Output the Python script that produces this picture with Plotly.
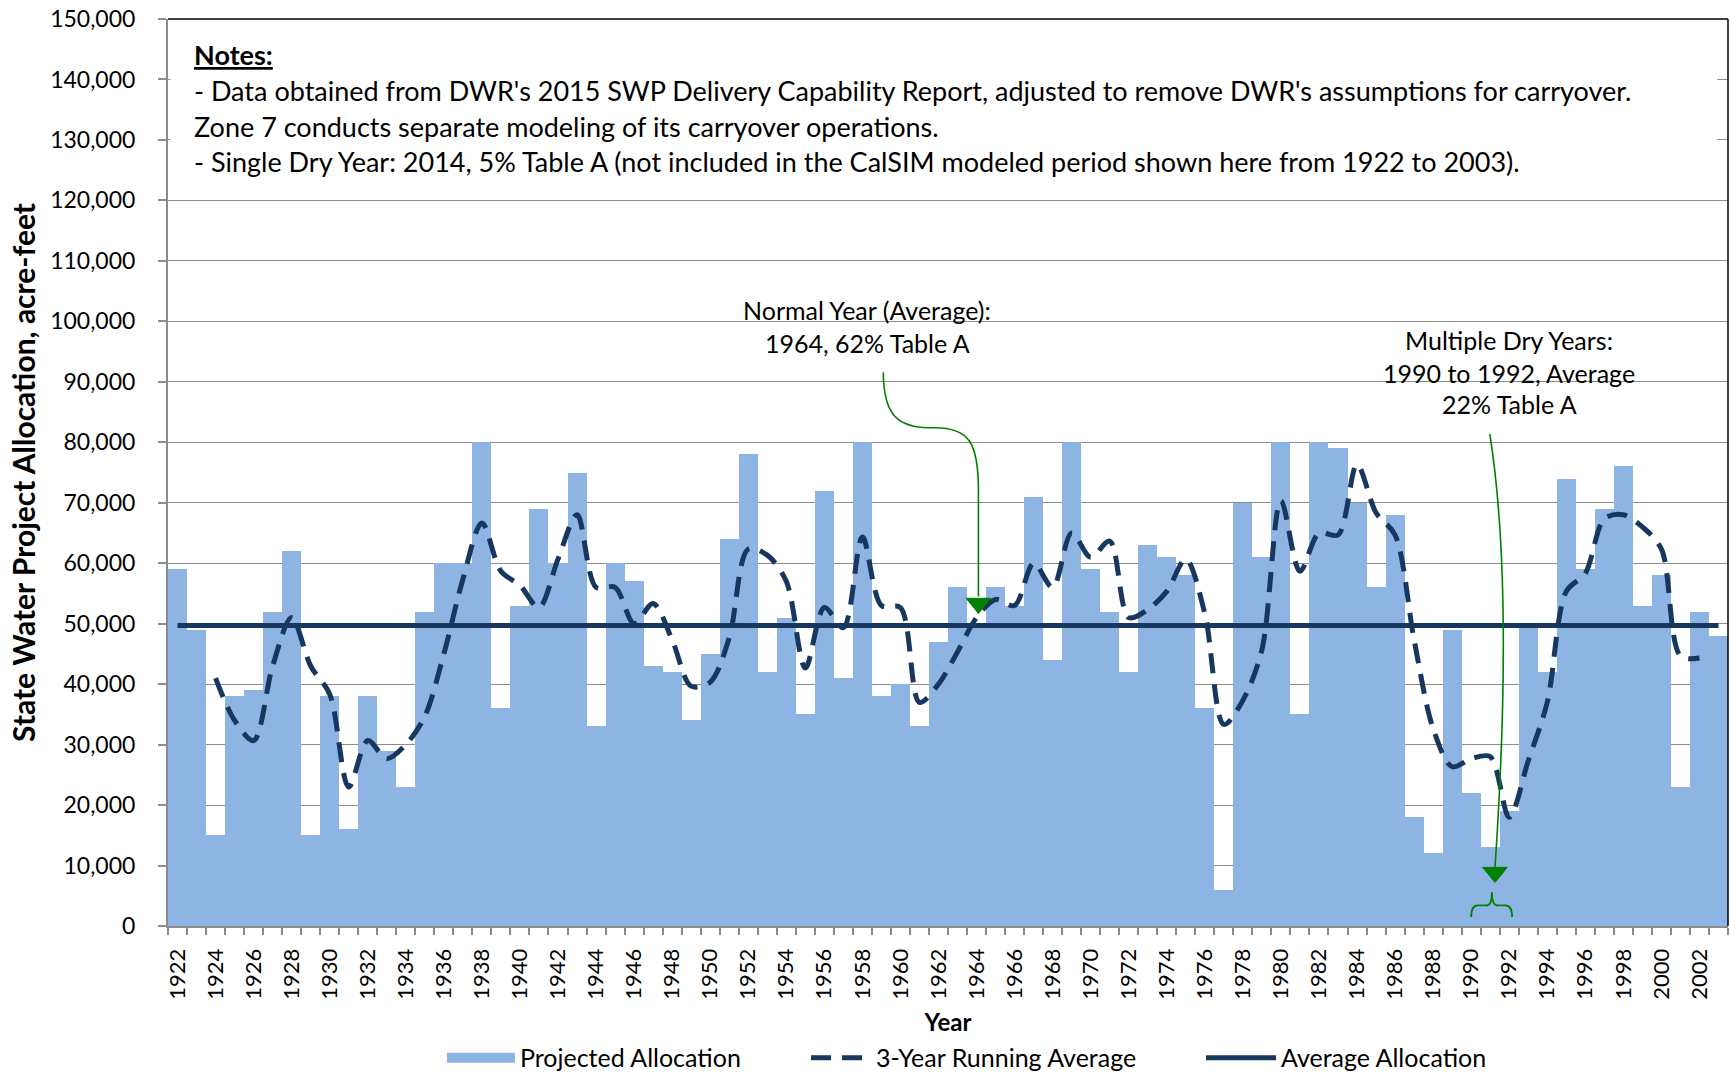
import plotly.graph_objects as go

# ---------------- data ----------------
years = list(range(1922, 2004))
projected_allocation = [
    59000, 49000, 15000, 38000, 39000, 52000, 62000, 15000, 38000, 16000,   # 1922-1931
    38000, 29000, 23000, 52000, 60000, 60000, 80000, 36000, 53000, 69000,   # 1932-1941
    60000, 75000, 33000, 60000, 57000, 43000, 42000, 34000, 45000, 64000,   # 1942-1951
    78000, 42000, 51000, 35000, 72000, 41000, 80000, 38000, 40000, 33000,   # 1952-1961
    47000, 56000, 50000, 56000, 53000, 71000, 44000, 80000, 59000, 52000,   # 1962-1971
    42000, 63000, 61000, 58000, 36000, 6000, 70000, 61000, 80000, 35000,    # 1972-1981
    80000, 79000, 70000, 56000, 68000, 18000, 12000, 49000, 22000, 13000,   # 1982-1991
    19000, 50000, 42000, 74000, 59000, 69000, 76000, 53000, 58000, 23000,   # 1992-2001
    52000, 48000,                                                           # 2002-2003
]
running_avg_years = list(range(1924, 2003))
running_average = [
    41000, 34000, 30667, 43000, 51000, 43000, 38333, 23000, 30667, 27667,   # 1924-1933
    30000, 34667, 45000, 57333, 66667, 58667, 56333, 52667, 60667, 68000,   # 1934-1943
    56000, 56000, 50000, 53333, 47333, 39667, 40333, 47667, 62333, 61333,   # 1944-1953
    57000, 42667, 52667, 49333, 64333, 53000, 52667, 37000, 40000, 45333,   # 1954-1963
    51000, 54000, 53000, 60000, 56000, 65000, 61000, 63667, 51000, 52333,   # 1964-1973
    55333, 60667, 51667, 33333, 37333, 45667, 70333, 58667, 65000, 64667,   # 1974-1983
    76333, 68333, 64667, 47333, 32667, 26333, 27667, 28000, 18000, 27333,   # 1984-1993
    37000, 55333, 58333, 67333, 68000, 66000, 62333, 44667, 44333,          # 1994-2002
]
average_allocation = 49700
tick_years = list(range(1922, 2004, 2))
tick_labels = [str(y) for y in tick_years]

notes_lines = [
    "<b><span style='text-decoration:underline'>Notes:</span></b>",
    "- Data obtained from DWR's 2015 SWP Delivery Capability Report, adjusted to remove DWR's assumptions for carryover.",
    "Zone 7 conducts separate modeling of its carryover operations.",
    "- Single Dry Year: 2014, 5% Table A (not included in the CalSIM modeled period shown here from 1922 to 2003).",
]
normal_lines = ["Normal Year (Average):", "1964, 62% Table A"]
dry_lines = ["Multiple Dry Years:", "1990 to 1992, Average", "22% Table A"]

# ---------------- styles ----------------
FONT = "Lato"
BAR_COLOR = "#8EB4E3"
NAVY = "#17375E"
GRID = "#8C8C8C"
GREEN = "#008000"

fig = go.Figure()
fig.add_trace(go.Bar(
    x=years, y=projected_allocation, name="Projected Allocation", showlegend=False,
    marker=dict(color=BAR_COLOR, line=dict(width=0)), width=1.0,
))
# legend entry for the bars, drawn as a wide swatch (as in the original legend)
fig.add_trace(go.Scatter(
    x=[None], y=[None], name="Projected Allocation", legend="legend",
    mode="lines", line=dict(color=BAR_COLOR, width=15),
))
fig.add_trace(go.Scatter(
    x=running_avg_years, y=running_average, name="3-Year Running Average", legend="legend2",
    mode="lines", line=dict(color=NAVY, width=5, dash="20px,11px", shape="spline", smoothing=0.9),
))
fig.add_trace(go.Scatter(
    x=[years[0], years[-1]], y=[average_allocation, average_allocation], legend="legend3",
    name="Average Allocation", mode="lines", line=dict(color=NAVY, width=5),
))

shapes = []
# white notes box hiding the top gridlines
shapes.append(dict(type="rect", xref="paper", yref="y", x0=0.0015, x1=0.993, y0=121200, y1=150000,
                   fillcolor="white", line=dict(width=0), layer="above"))
# black plot frame (top and right)
shapes.append(dict(type="line", xref="paper", yref="paper", x0=0, x1=1, y0=1, y1=1,
                   line=dict(color="black", width=1.5), layer="above"))
shapes.append(dict(type="line", xref="paper", yref="paper", x0=1, x1=1, y0=0, y1=1,
                   line=dict(color="black", width=1.5), layer="above"))
# green callout arrow: normal year
shapes.append(dict(type="path", xref="x", yref="y", layer="above",
                   path="M 1959.1,91600 C 1959.1,83200 1960.2,82400 1961.8,82400 "
                        "C 1963.6,82400 1964.1,80000 1964.1,72000 L 1964.1,54500",
                   line=dict(color=GREEN, width=1.6)))
shapes.append(dict(type="path", xref="x", yref="y", layer="above",
                   path="M 1963.45,54200 L 1964.75,54200 L 1964.1,51700 Z",
                   fillcolor=GREEN, line=dict(color=GREEN, width=1)))
# green callout arrow: multiple dry years
shapes.append(dict(type="path", xref="x", yref="y", layer="above",
                   path="M 1990.98,81400 Q 1992.25,56000 1991.25,9600",
                   line=dict(color=GREEN, width=1.6)))
shapes.append(dict(type="path", xref="x", yref="y", layer="above",
                   path="M 1990.6,9700 L 1991.9,9700 L 1991.25,7200 Z",
                   fillcolor=GREEN, line=dict(color=GREEN, width=1)))
# bracket under 1990-1992
shapes.append(dict(type="path", xref="x", yref="y", layer="above",
                   path="M 1990.0,1500 Q 1990.0,3400 1990.35,3400 L 1990.8,3400 "
                        "Q 1991.09,3400 1991.09,5600 Q 1991.09,3400 1991.4,3400 "
                        "L 1991.8,3400 Q 1992.15,3400 1992.15,1500",
                   line=dict(color=GREEN, width=1.8)))

annotations = []
notes_y = [144100, 138200, 132300, 126400]
for txt, yv in zip(notes_lines, notes_y):
    annotations.append(dict(text=txt, xref="paper", yref="y", x=0.0154, y=yv,
                            xanchor="left", yanchor="middle", showarrow=False,
                            font=dict(family=FONT, size=27, color="black")))
for txt, yv in zip(normal_lines, [101900, 96500]):
    annotations.append(dict(text=txt, xref="x", yref="y", x=1958.25, y=yv,
                            xanchor="center", yanchor="middle", showarrow=False,
                            font=dict(family=FONT, size=25, color="black")))
for txt, yv in zip(dry_lines, [96900, 91400, 86300]):
    annotations.append(dict(text=txt, xref="x", yref="y", x=1992.0, y=yv,
                            xanchor="center", yanchor="middle", showarrow=False,
                            font=dict(family=FONT, size=25, color="black")))

legend_common = dict(orientation="h", y=-0.1455, xanchor="left", yanchor="middle",
                     font=dict(family=FONT, size=25, color="black"),
                     bgcolor="rgba(0,0,0,0)")

fig.update_layout(
    width=1730, height=1074,
    margin=dict(l=168, r=2, t=19, b=148, autoexpand=False),
    paper_bgcolor="white", plot_bgcolor="white",
    font=dict(family=FONT, size=22, color="black"),
    bargap=0,
    showlegend=True,
    legend=dict(x=0.1756, itemwidth=68, **legend_common),
    legend2=dict(x=0.409, itemwidth=60, **legend_common),
    legend3=dict(x=0.6622, itemwidth=70, **legend_common),
    shapes=shapes,
    annotations=annotations,
    xaxis=dict(
        range=[1921.5, 2003.5], tickmode="array", tickvals=tick_years, ticktext=tick_labels,
        tickangle=-90, ticks="outside", ticklen=12, tickcolor="rgba(0,0,0,0)",
        showgrid=False, zeroline=False, showline=True, linecolor=GRID, linewidth=2,
        automargin=False, ticklabeloverflow="allow",
        tickfont=dict(family=FONT, size=22, color="black"),
        minor=dict(tick0=1921.5, dtick=1, ticks="outside", ticklen=7, tickcolor=GRID,
                   tickwidth=1.5, showgrid=False),
        title=dict(text="<b>Year</b>", font=dict(family=FONT, size=24, color="black"), standoff=15),
    ),
    yaxis=dict(
        range=[0, 150000], dtick=10000, tickformat=",", ticks="outside", ticklen=8,
        tickcolor=GRID, tickwidth=1.5, showgrid=True, gridcolor=GRID, gridwidth=1.3,
        zeroline=False, showline=True, linecolor=GRID, linewidth=2, automargin=False,
        ticklabeloverflow="allow",
        tickfont=dict(family=FONT, size=23, color="black"), ticklabelstandoff=18,
        title=dict(text="<b>State Water Project Allocation, acre-feet</b>",
                   font=dict(family=FONT, size=30, color="black"), standoff=6),
    ),
)

# remove the browser's default page margin so the figure fills the window exactly
fig.write_html("out.html", config={"displayModeBar": False},
               post_script="document.body.style.margin='0';")
